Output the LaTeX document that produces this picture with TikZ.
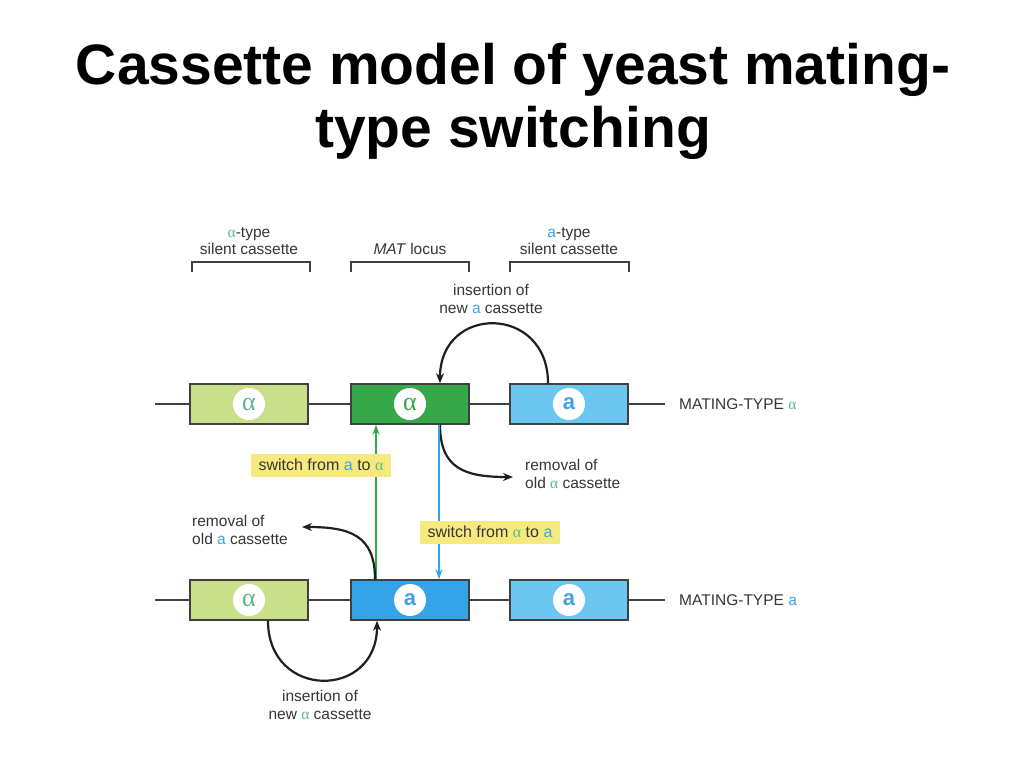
\documentclass[tikz,border=0pt]{standalone}
\usepackage{fontspec}
\setmainfont{Liberation Sans}
\newfontfamily\serifface{Liberation Serif}
\usetikzlibrary{arrows.meta}
\definecolor{lgreen}{HTML}{C9DF8A}
\definecolor{dgreen}{HTML}{36A84A}
\definecolor{lblue}{HTML}{6CC7F0}
\definecolor{mblue}{HTML}{35A3E8}
\definecolor{ylw}{HTML}{F6EA7E}
\definecolor{galpha}{HTML}{5CB88A}
\definecolor{ba}{HTML}{3DA5E6}
\definecolor{txt}{HTML}{363636}
\definecolor{edge}{HTML}{404040}
\newcommand\myalpha{{\serifface α}}
\newcommand\ga{\textcolor{galpha}{\myalpha}}
\newcommand\bA{\textcolor{ba}{a}}
\begin{document}
\begin{tikzpicture}[x=1pt,y=-1pt,
  cas/.style={draw=edge, line width=1.5pt, minimum width=118pt, minimum height=40pt, inner sep=0pt},
  disc/.style={circle, fill=white, minimum size=32pt, inner sep=0pt},
  lbl/.style={text=txt, font=\fontsize{15.5}{17.5}\selectfont, align=center, inner sep=0pt},
  sw/.style={fill=ylw, text=txt, font=\fontsize{16}{18}\selectfont, inner xsep=8pt, inner ysep=4pt, minimum height=23pt},
  dna/.style={draw=edge, line width=2.4pt},
  brk/.style={draw=edge, line width=1.4pt},
  arr/.style={draw=black!88, line width=2.2pt, -{Stealth[length=10pt,width=8pt]}},
  garr/.style={draw=dgreen, line width=1.5pt, -{Stealth[length=10pt,width=7pt]}},
  barr/.style={draw=mblue, line width=1.5pt, -{Stealth[length=10pt,width=7pt]}},
  title/.style={font=\fontsize{57}{63}\selectfont\bfseries, anchor=base, inner sep=0pt}
]
\useasboundingbox (0,0) rectangle (1024,768);
\fill[white] (0,0) rectangle (1024,768);

% title
\node[title] (t1) at (513,84) {Cassette model of yeast mating-};
\node[title] (t2) at (513,147) {type switching};

% top labels
\node[lbl] (lA) at (249,241) {\ga-type\\silent cassette};
\node[lbl] (lM) at (410,249) {\textit{MAT} locus};
\node[lbl] (lB) at (569,241) {\bA-type\\silent cassette};
\draw[brk] (192,272) -- (192,262) -- (310,262) -- (310,272);
\draw[brk] (351,272) -- (351,262) -- (469,262) -- (469,272);
\draw[brk] (510,272) -- (510,262) -- (629,262) -- (629,272);

% row 1
\coordinate (L1) at (155,404);
\coordinate (R1) at (665,404);
\node[cas, fill=lgreen] (A1) at (249,404) {};
\node[cas, fill=dgreen] (M1) at (410,404) {};
\node[cas, fill=lblue] (B1) at (569,404) {};
\draw[dna] (L1) -- (A1.west) (A1.east) -- (M1.west) (M1.east) -- (B1.west) (B1.east) -- (R1);
\node[disc, text=galpha, font=\fontsize{26}{26}\selectfont] (cA1) at (A1) {\myalpha};
\node[disc, text=dgreen, font=\fontsize{26}{26}\selectfont] (cM1) at (M1) {\myalpha};
\node[disc, text=ba, font=\fontsize{22}{22}\selectfont\bfseries] (cB1) at (B1) {a};
\node[lbl, anchor=west] (mt1) at (679,404) {MATING-TYPE \ga};

% row 2
\coordinate (L2) at (155,600);
\coordinate (R2) at (665,600);
\node[cas, fill=lgreen] (A2) at (249,600) {};
\node[cas, fill=mblue] (M2) at (410,600) {};
\node[cas, fill=lblue] (B2) at (569,600) {};
\draw[dna] (L2) -- (A2.west) (A2.east) -- (M2.west) (M2.east) -- (B2.west) (B2.east) -- (R2);
\node[disc, text=galpha, font=\fontsize{26}{26}\selectfont] (cA2) at (A2) {\myalpha};
\node[disc, text=ba, font=\fontsize{22}{22}\selectfont\bfseries] (cM2) at (M2) {a};
\node[disc, text=ba, font=\fontsize{22}{22}\selectfont\bfseries] (cB2) at (B2) {a};
\node[lbl, anchor=west] (mt2) at (679,600) {MATING-TYPE \bA};

% insertion of new a
\node[lbl] (insA) at (491,299) {insertion of\\new \bA\ cassette};
\draw[arr] ([xshift=-21]B1.north) .. controls +(0,-79) and +(0,-79) .. ([xshift=30]M1.north);

% removal of old alpha
\coordinate (remAend) at (513,477);
\node[lbl, anchor=west, align=left] (remA) at (525,474) {removal of\\old \ga\ cassette};
\draw[arr] ([xshift=30]M1.south) .. controls +(0,44) and +(-48,0) .. (remAend);

% vertical switches
\draw[barr] ([xshift=29]M1.south) -- ([xshift=29]M2.north);
\draw[garr] ([xshift=-34]M2.north) -- ([xshift=-34]M1.south);
\node[sw] (sw1) at (321,465) {switch from \bA\ to \ga};
\node[sw] (sw2) at (490,532) {switch from \ga\ to \bA};

% removal of old a
\coordinate (remBend) at (302,527);
\node[lbl, anchor=west, align=left] (remB) at (192,530) {removal of\\old \bA\ cassette};
\draw[arr] ([xshift=-35]M2.north) .. controls +(0,-44) and +(48,0) .. (remBend);

% insertion of new alpha
\draw[arr] ([xshift=19]A2.south) .. controls +(0,79) and +(0,79) .. ([xshift=-33]M2.south);
\node[lbl] (insB) at (320,705) {insertion of\\new \ga\ cassette};
\end{tikzpicture}
\end{document}
